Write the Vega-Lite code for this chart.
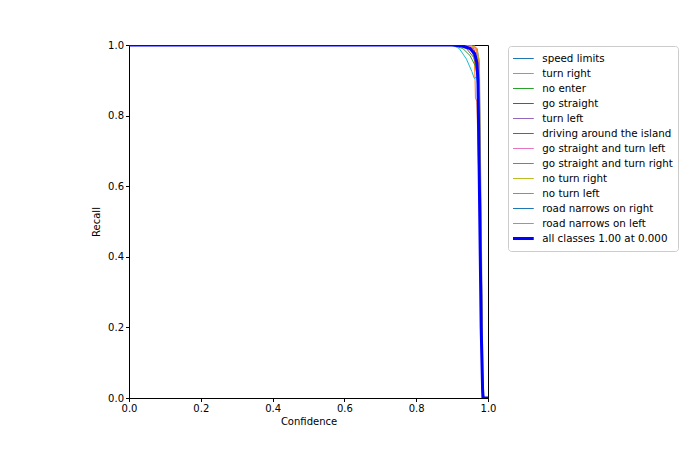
{
  "$schema": "https://vega.github.io/schema/vega-lite/v6.json",
  "width": 359,
  "height": 353,
  "autosize": "none",
  "padding": {"left": 129, "top": 45, "right": 208, "bottom": 62},
  "background": "white",
  "config": {
    "font": "DejaVu Sans",
    "view": {"stroke": "black", "strokeWidth": 1},
    "axis": {"grid": false, "domainColor": "black", "tickColor": "black", "labelColor": "black", "titleColor": "black", "labelFontSize": 10, "titleFontSize": 10, "titleFontWeight": "normal", "tickSize": 3.5, "labelPadding": 2, "labelFont": "DejaVu Sans", "titleFont": "DejaVu Sans"}
  },
  "data": {
    "values": [
      {"cls": "speed limits", "conf": 0, "recall": 1},
      {"cls": "speed limits", "conf": 0.91, "recall": 1},
      {"cls": "speed limits", "conf": 0.94, "recall": 0.995},
      {"cls": "speed limits", "conf": 0.96, "recall": 0.98},
      {"cls": "speed limits", "conf": 0.972, "recall": 0.95},
      {"cls": "speed limits", "conf": 0.976, "recall": 0.9},
      {"cls": "speed limits", "conf": 0.98, "recall": 0.5},
      {"cls": "speed limits", "conf": 0.985, "recall": 0.05},
      {"cls": "speed limits", "conf": 0.988, "recall": 0},
      {"cls": "speed limits", "conf": 1, "recall": 0},

      {"cls": "turn right", "conf": 0, "recall": 1},
      {"cls": "turn right", "conf": 0.93, "recall": 1},
      {"cls": "turn right", "conf": 0.955, "recall": 0.99},
      {"cls": "turn right", "conf": 0.962, "recall": 0.96},
      {"cls": "turn right", "conf": 0.964, "recall": 0.9},
      {"cls": "turn right", "conf": 0.965, "recall": 0.85},
      {"cls": "turn right", "conf": 0.969, "recall": 0.84},
      {"cls": "turn right", "conf": 0.975, "recall": 0.6},
      {"cls": "turn right", "conf": 0.982, "recall": 0.1},
      {"cls": "turn right", "conf": 0.985, "recall": 0},
      {"cls": "turn right", "conf": 1, "recall": 0},

      {"cls": "no enter", "conf": 0, "recall": 1},
      {"cls": "no enter", "conf": 0.9, "recall": 1},
      {"cls": "no enter", "conf": 0.93, "recall": 0.99},
      {"cls": "no enter", "conf": 0.95, "recall": 0.97},
      {"cls": "no enter", "conf": 0.965, "recall": 0.94},
      {"cls": "no enter", "conf": 0.972, "recall": 0.9},
      {"cls": "no enter", "conf": 0.978, "recall": 0.5},
      {"cls": "no enter", "conf": 0.984, "recall": 0.05},
      {"cls": "no enter", "conf": 0.987, "recall": 0},
      {"cls": "no enter", "conf": 1, "recall": 0},

      {"cls": "go straight", "conf": 0, "recall": 1},
      {"cls": "go straight", "conf": 0.93, "recall": 1},
      {"cls": "go straight", "conf": 0.96, "recall": 0.99},
      {"cls": "go straight", "conf": 0.97, "recall": 0.96},
      {"cls": "go straight", "conf": 0.973, "recall": 0.86},
      {"cls": "go straight", "conf": 0.977, "recall": 0.5},
      {"cls": "go straight", "conf": 0.983, "recall": 0.05},
      {"cls": "go straight", "conf": 0.986, "recall": 0},
      {"cls": "go straight", "conf": 1, "recall": 0},

      {"cls": "turn left", "conf": 0, "recall": 1},
      {"cls": "turn left", "conf": 0.92, "recall": 1},
      {"cls": "turn left", "conf": 0.95, "recall": 0.99},
      {"cls": "turn left", "conf": 0.965, "recall": 0.97},
      {"cls": "turn left", "conf": 0.974, "recall": 0.93},
      {"cls": "turn left", "conf": 0.978, "recall": 0.6},
      {"cls": "turn left", "conf": 0.984, "recall": 0.05},
      {"cls": "turn left", "conf": 0.987, "recall": 0},
      {"cls": "turn left", "conf": 1, "recall": 0},

      {"cls": "driving around the island", "conf": 0, "recall": 1},
      {"cls": "driving around the island", "conf": 0.91, "recall": 1},
      {"cls": "driving around the island", "conf": 0.94, "recall": 0.99},
      {"cls": "driving around the island", "conf": 0.96, "recall": 0.965},
      {"cls": "driving around the island", "conf": 0.97, "recall": 0.93},
      {"cls": "driving around the island", "conf": 0.976, "recall": 0.7},
      {"cls": "driving around the island", "conf": 0.983, "recall": 0.05},
      {"cls": "driving around the island", "conf": 0.986, "recall": 0},
      {"cls": "driving around the island", "conf": 1, "recall": 0},

      {"cls": "go straight and turn left", "conf": 0, "recall": 1},
      {"cls": "go straight and turn left", "conf": 0.94, "recall": 1},
      {"cls": "go straight and turn left", "conf": 0.965, "recall": 0.99},
      {"cls": "go straight and turn left", "conf": 0.975, "recall": 0.95},
      {"cls": "go straight and turn left", "conf": 0.979, "recall": 0.6},
      {"cls": "go straight and turn left", "conf": 0.985, "recall": 0.05},
      {"cls": "go straight and turn left", "conf": 0.988, "recall": 0},
      {"cls": "go straight and turn left", "conf": 1, "recall": 0},

      {"cls": "go straight and turn right", "conf": 0, "recall": 1},
      {"cls": "go straight and turn right", "conf": 0.95, "recall": 1},
      {"cls": "go straight and turn right", "conf": 0.97, "recall": 0.99},
      {"cls": "go straight and turn right", "conf": 0.976, "recall": 0.95},
      {"cls": "go straight and turn right", "conf": 0.98, "recall": 0.6},
      {"cls": "go straight and turn right", "conf": 0.986, "recall": 0.05},
      {"cls": "go straight and turn right", "conf": 0.989, "recall": 0},
      {"cls": "go straight and turn right", "conf": 1, "recall": 0},

      {"cls": "no turn right", "conf": 0, "recall": 1},
      {"cls": "no turn right", "conf": 0.95, "recall": 1},
      {"cls": "no turn right", "conf": 0.968, "recall": 0.99},
      {"cls": "no turn right", "conf": 0.975, "recall": 0.96},
      {"cls": "no turn right", "conf": 0.979, "recall": 0.6},
      {"cls": "no turn right", "conf": 0.985, "recall": 0.05},
      {"cls": "no turn right", "conf": 0.988, "recall": 0},
      {"cls": "no turn right", "conf": 1, "recall": 0},

      {"cls": "no turn left", "conf": 0, "recall": 1},
      {"cls": "no turn left", "conf": 0.9, "recall": 1},
      {"cls": "no turn left", "conf": 0.92, "recall": 0.99},
      {"cls": "no turn left", "conf": 0.94, "recall": 0.96},
      {"cls": "no turn left", "conf": 0.955, "recall": 0.925},
      {"cls": "no turn left", "conf": 0.962, "recall": 0.905},
      {"cls": "no turn left", "conf": 0.968, "recall": 0.91},
      {"cls": "no turn left", "conf": 0.972, "recall": 0.88},
      {"cls": "no turn left", "conf": 0.977, "recall": 0.5},
      {"cls": "no turn left", "conf": 0.983, "recall": 0.05},
      {"cls": "no turn left", "conf": 0.986, "recall": 0},
      {"cls": "no turn left", "conf": 1, "recall": 0},

      {"cls": "road narrows on right", "conf": 0, "recall": 1},
      {"cls": "road narrows on right", "conf": 0.92, "recall": 1},
      {"cls": "road narrows on right", "conf": 0.95, "recall": 0.99},
      {"cls": "road narrows on right", "conf": 0.965, "recall": 0.96},
      {"cls": "road narrows on right", "conf": 0.972, "recall": 0.92},
      {"cls": "road narrows on right", "conf": 0.977, "recall": 0.6},
      {"cls": "road narrows on right", "conf": 0.984, "recall": 0.05},
      {"cls": "road narrows on right", "conf": 0.987, "recall": 0},
      {"cls": "road narrows on right", "conf": 1, "recall": 0},

      {"cls": "road narrows on left", "conf": 0, "recall": 1},
      {"cls": "road narrows on left", "conf": 0.96, "recall": 1},
      {"cls": "road narrows on left", "conf": 0.968, "recall": 0.99},
      {"cls": "road narrows on left", "conf": 0.972, "recall": 0.96},
      {"cls": "road narrows on left", "conf": 0.974, "recall": 0.9},
      {"cls": "road narrows on left", "conf": 0.977, "recall": 0.6},
      {"cls": "road narrows on left", "conf": 0.983, "recall": 0.05},
      {"cls": "road narrows on left", "conf": 0.986, "recall": 0},
      {"cls": "road narrows on left", "conf": 1, "recall": 0},

      {"cls": "all classes 1.00 at 0.000", "conf": 0, "recall": 1},
      {"cls": "all classes 1.00 at 0.000", "conf": 0.9, "recall": 1},
      {"cls": "all classes 1.00 at 0.000", "conf": 0.93, "recall": 0.997},
      {"cls": "all classes 1.00 at 0.000", "conf": 0.95, "recall": 0.99},
      {"cls": "all classes 1.00 at 0.000", "conf": 0.963, "recall": 0.975},
      {"cls": "all classes 1.00 at 0.000", "conf": 0.969, "recall": 0.95},
      {"cls": "all classes 1.00 at 0.000", "conf": 0.972, "recall": 0.9},
      {"cls": "all classes 1.00 at 0.000", "conf": 0.976, "recall": 0.6},
      {"cls": "all classes 1.00 at 0.000", "conf": 0.981, "recall": 0.2},
      {"cls": "all classes 1.00 at 0.000", "conf": 0.985, "recall": 0.02},
      {"cls": "all classes 1.00 at 0.000", "conf": 0.986, "recall": 0},
      {"cls": "all classes 1.00 at 0.000", "conf": 1, "recall": 0}
    ]
  },
  "encoding": {
    "x": {"field": "conf", "type": "quantitative", "title": "Confidence",
      "scale": {"domain": [0, 1], "nice": false, "zero": false},
      "axis": {"values": [0, 0.2, 0.4, 0.6, 0.8, 1.0], "format": ".1f", "labelFlush": false, "titlePadding": 3}},
    "y": {"field": "recall", "type": "quantitative", "title": "Recall",
      "scale": {"domain": [0, 1], "nice": false, "zero": false},
      "axis": {"values": [0, 0.2, 0.4, 0.6, 0.8, 1.0], "format": ".1f", "labelFlush": false, "titlePadding": 6}},
    "color": {"field": "cls", "type": "nominal",
      "scale": {
        "domain": ["speed limits", "turn right", "no enter", "go straight", "turn left", "driving around the island", "go straight and turn left", "go straight and turn right", "no turn right", "no turn left", "road narrows on right", "road narrows on left", "all classes 1.00 at 0.000"],
        "range": ["#1f77b4", "#ff7f0e", "#2ca02c", "#d62728", "#9467bd", "#8c564b", "#e377c2", "#7f7f7f", "#bcbd22", "#17becf", "#1f77b4", "#ff7f0e", "#0000ff"]
      },
      "legend": {"title": null, "orient": "none", "legendX": 379, "legendY": 1, "padding": 5, "strokeColor": "#cccccc", "fillColor": "white", "cornerRadius": 3, "symbolType": "M-0.85,0H2.08", "symbolSize": 225, "clipHeight": 15, "rowPadding": 0, "labelOffset": 19, "labelFontSize": 10.3, "labelColor": "black", "labelFont": "DejaVu Sans", "labelLimit": 300,
        "encode": {"symbols": {"update": {"strokeWidth": {"signal": "datum.label === 'all classes 1.00 at 0.000' ? 3 : 1"}}}}}
    }
  },
  "layer": [
    {"transform": [{"filter": "datum.cls !== 'all classes 1.00 at 0.000'"}], "mark": {"type": "line", "clip": true, "strokeWidth": 1}},
    {"transform": [{"filter": "datum.cls === 'all classes 1.00 at 0.000'"}], "mark": {"type": "line", "clip": true, "strokeWidth": 3}}
  ]
}
